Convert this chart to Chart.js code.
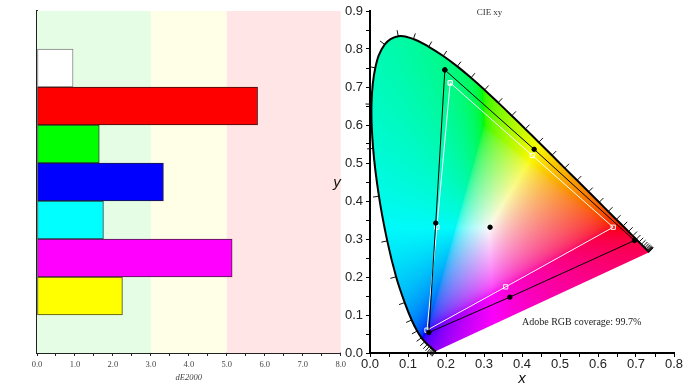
<!DOCTYPE html>
<html>
<head>
<meta charset="utf-8">
<script src="https://cdn.jsdelivr.net/npm/chart.js@4.4.1/dist/chart.umd.min.js"></script>
<style>
  html, body { margin: 0; padding: 0; background: #fff; overflow: hidden; }
  #wrap { position: relative; width: 693px; height: 390px; }
  #left { position: absolute; left: 0; top: 0; width: 350px; height: 390px; }
  #right { position: absolute; left: 330px; top: 0; width: 363px; height: 390px; }
</style>
</head>
<body>
<div id="wrap">
  <canvas id="left" width="350" height="390"></canvas>
  <canvas id="right" width="363" height="390"></canvas>
</div>
<script>
// ---- left: dE2000 bars ----
const categories = ['', 'White', 'Red', 'Green', 'Blue', 'Cyan', 'Magenta', 'Yellow', ''];
const dE2000 = [null, 0.95, 5.81, 1.64, 3.33, 1.75, 5.14, 2.25, null];
const barColors = ['#ffffff', '#ffffff', '#ff0000', '#00ff00', '#0000ff', '#00ffff', '#ff00ff', '#ffff00', '#ffffff'];
const barBorders = ['#333', '#808080', '#3a1010', '#2a4a2a', '#1a1a40', '#2a4a4a', '#4a1a4a', '#4a4a1a', '#333'];
const bandEdges = [0, 3, 5, 8];
const bandColors = ['rgb(229,253,229)', 'rgb(255,254,230)', 'rgb(255,229,229)'];
const dEAxisTitle = 'dE2000';

// ---- right: CIE xy ----
const locusNm = [380,385,390,395,400,405,410,415,420,425,430,435,440,445,450,455,460,465,470,475,480,485,490,495,500,505,510,515,520,525,530,535,540,545,550,555,560,565,570,575,580,585,590,595,600,605,610,615,620,625,630,635,640,645,650,655,660,665,670,675,680,685,690,695,700];
const locusX = [0.1741,0.1740,0.1738,0.1736,0.1733,0.1730,0.1726,0.1721,0.1714,0.1703,0.1689,0.1669,0.1644,0.1611,0.1566,0.1510,0.1440,0.1355,0.1241,0.1096,0.0913,0.0687,0.0454,0.0235,0.0082,0.0039,0.0139,0.0389,0.0743,0.1142,0.1547,0.1929,0.2296,0.2658,0.3016,0.3373,0.3731,0.4087,0.4441,0.4788,0.5125,0.5448,0.5752,0.6029,0.6270,0.6482,0.6658,0.6801,0.6915,0.7006,0.7079,0.7140,0.7190,0.7230,0.7260,0.7283,0.7300,0.7311,0.7320,0.7327,0.7334,0.7340,0.7344,0.7346,0.7347];
const locusY = [0.0050,0.0050,0.0049,0.0049,0.0048,0.0048,0.0048,0.0048,0.0051,0.0058,0.0069,0.0086,0.0109,0.0138,0.0177,0.0227,0.0297,0.0399,0.0578,0.0868,0.1327,0.2007,0.2950,0.4127,0.5384,0.6548,0.7502,0.8120,0.8338,0.8262,0.8059,0.7816,0.7543,0.7243,0.6923,0.6589,0.6245,0.5896,0.5547,0.5202,0.4866,0.4544,0.4242,0.3965,0.3725,0.3514,0.3340,0.3197,0.3083,0.2993,0.2920,0.2859,0.2809,0.2770,0.2740,0.2717,0.2700,0.2689,0.2680,0.2673,0.2666,0.2660,0.2656,0.2654,0.2653];
// G, Y, R, M, B, C, G
const measuredX = [0.197, 0.432, 0.696, 0.368, 0.155, 0.173, 0.197];
const measuredY = [0.745, 0.536, 0.296, 0.147, 0.054, 0.342, 0.745];
const targetX = [0.211, 0.427, 0.640, 0.357, 0.150, 0.176, 0.211];
const targetY = [0.711, 0.520, 0.331, 0.174, 0.060, 0.331, 0.711];
const whitePoint = [0.316, 0.331];
const cieTitle = 'CIE xy';
const coverageLabel = 'Adobe RGB coverage: 99.7%';
const coverageAt = [0.40, 0.08];

const pts = (xs, ys) => xs.map((x, i) => ({ x: x, y: ys[i] }));

const bandsPlugin = {
  id: 'bands',
  beforeDatasetsDraw(chart) {
    const { ctx, chartArea, scales } = chart;
    ctx.save();
    for (let i = 0; i < bandColors.length; i++) {
      const x0 = scales.x.getPixelForValue(bandEdges[i]);
      const x1 = scales.x.getPixelForValue(bandEdges[i + 1]);
      ctx.fillStyle = bandColors[i];
      ctx.fillRect(x0, chartArea.top, x1 - x0, chartArea.bottom - chartArea.top);
    }
    ctx.restore();
  },
  afterDraw(chart) {
    const { ctx, chartArea } = chart;
    ctx.save();
    ctx.font = 'italic 8.5px "Liberation Serif"';
    ctx.fillStyle = '#444';
    ctx.textAlign = 'center';
    ctx.textBaseline = 'middle';
    ctx.fillText(dEAxisTitle, (chartArea.left + chartArea.right) / 2, 378);
    ctx.restore();
  }
};

new Chart(document.getElementById('left'), {
  type: 'bar',
  data: {
    labels: categories,
    datasets: [{
      data: dE2000,
      backgroundColor: barColors,
      borderColor: barBorders,
      borderWidth: 1,
      borderSkipped: false,
      barPercentage: 1,
      categoryPercentage: 1
    }]
  },
  options: {
    indexAxis: 'y',
    responsive: false,
    animation: false,
    layout: { padding: { top: 11, right: 9, left: 0, bottom: 0 } },
    plugins: { legend: { display: false }, tooltip: { enabled: false } },
    scales: {
      x: {
        min: 0, max: 8,
        ticks: {
          stepSize: 0.5, autoSkip: false, maxRotation: 0, padding: 4,
          font: { family: 'Liberation Serif', size: 8.5 }, color: '#444',
          callback: v => (Math.abs(v - Math.round(v)) < 1e-6 ? v.toFixed(1) : '')
        },
        grid: { drawOnChartArea: false, drawTicks: true, tickLength: 3, tickColor: '#222' },
        border: { color: '#222', width: 2 },
        afterFit: s => { s.height = 37; }
      },
      y: {
        ticks: { display: false },
        grid: { display: false },
        border: { color: '#222', width: 2 },
        afterFit: s => { s.width = 37; }
      }
    }
  },
  plugins: [bandsPlugin]
});

// chromaticity -> displayable colour, desaturated toward white until inside sRGB
function xyToRgb(x, y) {
  const X = x / y, Y = 1, Z = (1 - x - y) / y;
  let r = 3.2406 * X - 1.5372 * Y - 0.4986 * Z;
  let g = -0.9689 * X + 1.8758 * Y + 0.0415 * Z;
  let b = 0.0557 * X - 0.2040 * Y + 1.0570 * Z;
  const mn = Math.min(r, g, b);
  if (mn < 0) { r -= mn; g -= mn; b -= mn; }
  const m = Math.max(r, g, b) || 1;
  const gam = c => {
    c = c / m;
    c = c <= 0.0031308 ? 12.92 * c : 1.055 * Math.pow(c, 1 / 2.4) - 0.055;
    return Math.round(Math.min(1, c) * 250);
  };
  return [gam(r), gam(g), gam(b)];
}

function locusPath(chart, ctx) {
  const el = chart.getDatasetMeta(0).dataset;
  const sx = chart.scales.x, sy = chart.scales.y;
  ctx.beginPath();
  if (el && typeof el.path === 'function') {
    if (typeof el.updateControlPoints === 'function') el.updateControlPoints(chart.chartArea, 'x');
    el.path(ctx);
  } else {
    locusX.forEach((x, i) => {
      const px = sx.getPixelForValue(x), py = sy.getPixelForValue(locusY[i]);
      if (i === 0) ctx.moveTo(px, py); else ctx.lineTo(px, py);
    });
  }
  ctx.closePath();
}

const cieFillPlugin = {
  id: 'cieFill',
  beforeDatasetsDraw(chart) {
    const { ctx, chartArea, scales } = chart;
    const sx = scales.x, sy = scales.y;
    const w = Math.ceil(chartArea.right - chartArea.left);
    const h = Math.ceil(chartArea.bottom - chartArea.top);
    const off = document.createElement('canvas');
    off.width = w; off.height = h;
    const octx = off.getContext('2d');
    const img = octx.createImageData(w, h);
    for (let j = 0; j < h; j++) {
      const yv = sy.getValueForPixel(chartArea.top + j + 0.5);
      for (let i = 0; i < w; i++) {
        const xv = sx.getValueForPixel(chartArea.left + i + 0.5);
        const k = (j * w + i) * 4;
        if (yv <= 0.001) { img.data[k + 3] = 0; continue; }
        const c = xyToRgb(xv, yv);
        img.data[k] = c[0]; img.data[k + 1] = c[1]; img.data[k + 2] = c[2]; img.data[k + 3] = 255;
      }
    }
    octx.putImageData(img, 0, 0);
    ctx.save();
    locusPath(chart, ctx);
    ctx.clip();
    ctx.drawImage(off, chartArea.left, chartArea.top);
    ctx.restore();
  },
  afterDatasetsDraw(chart) {
    const { ctx, scales } = chart;
    const sx = scales.x, sy = scales.y;
    const cx = sx.getPixelForValue(0.33), cy = sy.getPixelForValue(0.33);
    ctx.save();
    ctx.strokeStyle = '#111';
    ctx.lineWidth = 1;
    for (let i = 1; i < locusNm.length - 1; i++) {
      if (locusNm[i] < 420 || locusNm[i] > 690) continue;
      const px = sx.getPixelForValue(locusX[i]), py = sy.getPixelForValue(locusY[i]);
      const ax = sx.getPixelForValue(locusX[i - 1]), ay = sy.getPixelForValue(locusY[i - 1]);
      const bx = sx.getPixelForValue(locusX[i + 1]), by = sy.getPixelForValue(locusY[i + 1]);
      const tx = bx - ax, ty = by - ay;
      const len = Math.hypot(tx, ty) || 1;
      let nx = -ty / len, ny = tx / len;
      if ((px - cx) * nx + (py - cy) * ny < 0) { nx = -nx; ny = -ny; }
      ctx.beginPath();
      ctx.moveTo(px, py);
      ctx.lineTo(px + nx * 6, py + ny * 6);
      ctx.stroke();
    }
    ctx.restore();
  },
  afterDraw(chart) {
    const { ctx, scales } = chart;
    ctx.save();
    ctx.fillStyle = '#333';
    ctx.textBaseline = 'middle';
    ctx.font = '9px "Liberation Serif"';
    ctx.textAlign = 'center';
    ctx.fillText(cieTitle, 159.5, 13);
    ctx.font = '10px "Liberation Serif"';
    ctx.textAlign = 'left';
    ctx.fillStyle = '#222';
    ctx.fillText(coverageLabel, scales.x.getPixelForValue(coverageAt[0]), scales.y.getPixelForValue(coverageAt[1]));
    ctx.font = 'italic 15px "Liberation Sans"';
    ctx.fillStyle = '#111';
    ctx.textAlign = 'center';
    ctx.fillText('y', 7, 183);
    ctx.fillText('x', (chart.chartArea.left + chart.chartArea.right) / 2, 379);
    ctx.restore();
  }
};

const tenth = v => (Math.abs(v * 10 - Math.round(v * 10)) < 1e-6 ? v.toFixed(1) : '');

new Chart(document.getElementById('right'), {
  type: 'scatter',
  data: {
    datasets: [
      { data: pts(locusX, locusY), showLine: true, tension: 0.4, borderColor: '#000', borderWidth: 2, pointRadius: 0, order: 4 },
      { data: pts(measuredX, measuredY), showLine: true, borderColor: '#000', borderWidth: 1, pointRadius: 2.2, pointBackgroundColor: '#000', pointBorderColor: '#000', order: 2 },
      { data: pts(targetX, targetY), showLine: true, borderColor: '#fff', borderWidth: 1, pointStyle: 'rect', pointRadius: 3, pointBorderWidth: 1, pointBorderColor: '#fff', pointBackgroundColor: 'rgba(0,0,0,0)', order: 3 },
      { data: [{ x: whitePoint[0], y: whitePoint[1] }], pointRadius: 2.2, pointBackgroundColor: '#000', pointBorderColor: '#000', order: 1 }
    ]
  },
  options: {
    responsive: false,
    animation: false,
    layout: { padding: { top: 11, right: 19, left: 0, bottom: 0 } },
    plugins: { legend: { display: false }, tooltip: { enabled: false } },
    scales: {
      x: {
        type: 'linear', min: 0, max: 0.8,
        ticks: { stepSize: 0.05, autoSkip: false, maxRotation: 0, padding: 0, font: { family: 'Liberation Sans', size: 13 }, color: '#222', callback: tenth },
        grid: { drawOnChartArea: false, drawTicks: true, tickLength: 4, tickColor: '#000' },
        border: { color: '#000', width: 2 },
        afterFit: s => { s.height = 37; }
      },
      y: {
        type: 'linear', min: 0, max: 0.9,
        ticks: { stepSize: 0.05, autoSkip: false, padding: 3, font: { family: 'Liberation Sans', size: 13 }, color: '#222', callback: tenth },
        grid: { drawOnChartArea: false, drawTicks: true, tickLength: 4, tickColor: '#000' },
        border: { color: '#000', width: 2 },
        afterFit: s => { s.width = 40; }
      }
    }
  },
  plugins: [cieFillPlugin]
});
</script>
</body>
</html>
